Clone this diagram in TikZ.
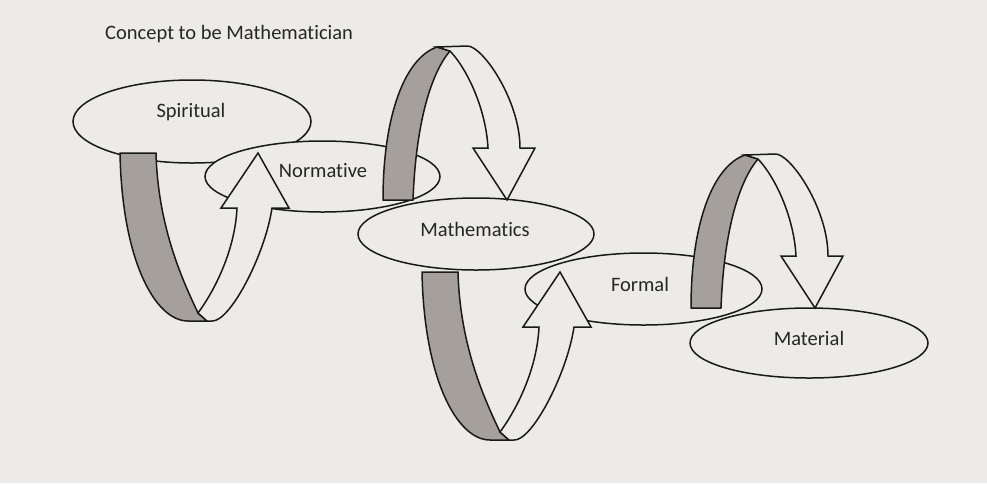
\documentclass[tikz,border=0pt]{standalone}
\usepackage{fontspec}
\setmainfont{Carlito}[Ligatures=NoCommon]
\usetikzlibrary{shapes.geometric}
\definecolor{bg}{RGB}{237,235,232}
\definecolor{band}{RGB}{166,160,156}
\definecolor{ln}{RGB}{25,25,25}
\begin{document}
\begin{tikzpicture}[x=1pt,y=-1pt,
  oval/.style={ellipse,draw=ln,line width=1.5pt,fill=bg,inner sep=0pt},
  lbl/.style={font=\fontsize{20.5}{24}\selectfont,text=black!85,inner sep=0pt},
  bandpart/.style={draw=ln,line width=1.5pt,fill=band,line join=round},
  frontpart/.style={draw=ln,line width=1.5pt,fill=bg,line join=miter},
  pics/uloop/.style={code={
    \draw[bandpart] (120,153) .. controls (122,260) and (155,321) .. (188,321) -- (207,321) -- (198,313) .. controls (185,285) and (158,230) .. (156,153) -- cycle;
    \draw[frontpart] (198,313) .. controls (215,290) and (235,250) .. (237,208) -- (221,208) -- (258,153) -- (289,208) -- (272,208) .. controls (265,255) and (230,322) .. (212,321) -- (207,321) -- cycle;
  }},
  pics/arch/.style={code={
    \draw[bandpart] (383,200) .. controls (383,115) and (405,58) .. (437,47) -- (450,51) .. controls (432,72) and (416,120) .. (413,200) -- cycle;
    \draw[frontpart] (450,51) .. controls (468,70) and (486,110) .. (488,148) -- (473,148) -- (507,200) -- (535,148) -- (520,148) .. controls (520,100) and (482,45) .. (467,46) -- (437,47) -- cycle;
  }}]
\fill[bg] (0,0) rectangle (987,483);
\useasboundingbox (0,0) rectangle (987,483);
% ovals
\node[oval,minimum width=238pt,minimum height=83pt] (spirE) at (192,121.5) {};
\node[oval,minimum width=235pt,minimum height=71pt] (normE) at (322.5,176.5) {};
\node[oval,minimum width=236pt,minimum height=72pt] (mathE) at (476,234) {};
\node[oval,minimum width=237pt,minimum height=72pt] (formE) at (643.5,289) {};
\node[oval,minimum width=238pt,minimum height=70pt] (matE) at (809,343) {};
% curved arrows
\pic (loopA) at (0,0) {uloop};
\pic (archA) at (0,0) {arch};
\pic (loopB) at (302,119) {uloop};
\pic (archB) at (308,108) {arch};
% labels
\node[lbl] (spir) at (191,112) {Spiritual};
\node[lbl] (norm) at (323,171) {Normative};
\node[lbl] (math) at (475,229) {Mathematics};
\node[lbl] (form) at (640,284) {Formal};
\node[lbl] (mat) at (809,338) {Material};
\node[lbl,anchor=west] (title) at (105,34) {Concept to be Mathematician};
\end{tikzpicture}
\end{document}
